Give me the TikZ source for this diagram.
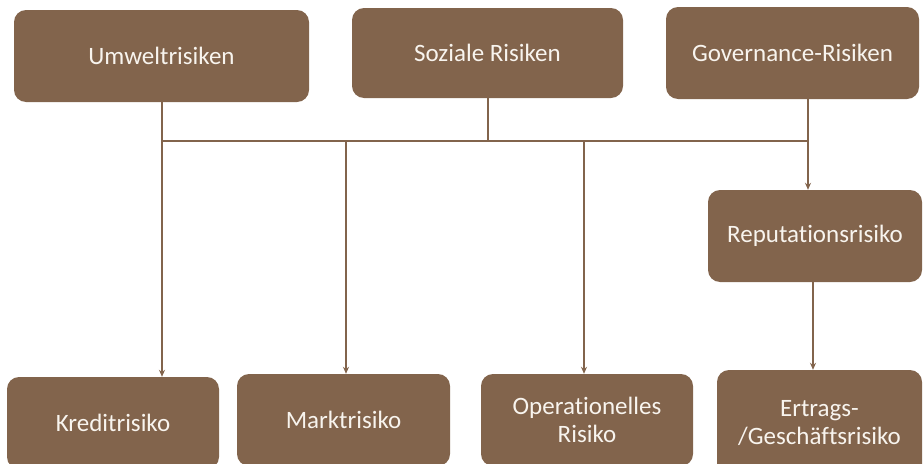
\documentclass[tikz,border=0pt]{standalone}
\usepackage{fontspec}
\setmainfont[Ligatures={NoCommon}]{Carlito}
\usetikzlibrary{arrows.meta}
\definecolor{risikobraun}{RGB}{130,100,76}
\definecolor{risikotext}{RGB}{248,244,238}
\begin{document}
\begin{tikzpicture}[x=1pt, y=-1pt,
        risikobox/.style={fill=risikobraun, rounded corners=12pt, inner sep=0pt,
            text=risikotext, align=center, font=\fontsize{25}{28}\selectfont},
        verbindung/.style={draw=risikobraun, line width=1.5pt},
        pfeil/.style={verbindung, -{Stealth[length=7pt, width=6pt]}}]
    \useasboundingbox (0, 0) rectangle (923, 463);

    \node at (161.5, 56) [risikobox, minimum width=295pt, minimum height=92pt] (umwelt) {Umweltrisiken};
    \node at (487.5, 53) [risikobox, minimum width=271pt, minimum height=90pt] (sozial) {Soziale Risiken};
    \node at (792.5, 53) [risikobox, minimum width=253pt, minimum height=92pt] (governance) {Governance-Risiken};
    \node at (815, 236) [risikobox, minimum width=214pt, minimum height=92pt] (reputation) {Reputationsrisiko};
    \node at (113, 423) [risikobox, minimum width=212pt, minimum height=92pt] (kredit) {Kreditrisiko};
    \node at (343.5, 420) [risikobox, minimum width=213pt, minimum height=92pt] (markt) {Marktrisiko};
    \node at (587, 420) [risikobox, minimum width=212pt, minimum height=92pt] (operationell) {Operationelles\\Risiko};
    \node at (819.5, 423) [risikobox, minimum width=205pt, minimum height=106pt] (ertrag) {Ertrags-\\/Geschäftsrisiko};

    % Sammelschiene
    \coordinate (jU) at (162, 141);
    \coordinate (jM) at (346, 141);
    \coordinate (jS) at (488, 141);
    \coordinate (jO) at (584, 141);
    \coordinate (jG) at (808, 141);
    \coordinate (jR) at (813, 282);

    \draw [verbindung] (jU |- umwelt.south) -- (jU) -- (jG);
    \draw [verbindung] (jS |- sozial.south) -- (jS);
    \draw [verbindung] (jG |- governance.south) -- (jG);

    \path
        (jU) edge [pfeil] (jU |- kredit.north)
        (jM) edge [pfeil] (jM |- markt.north)
        (jO) edge [pfeil] (jO |- operationell.north)
        (jG) edge [pfeil] (jG |- reputation.north)
        (jR) edge [pfeil] (jR |- ertrag.north);
\end{tikzpicture}
\end{document}
